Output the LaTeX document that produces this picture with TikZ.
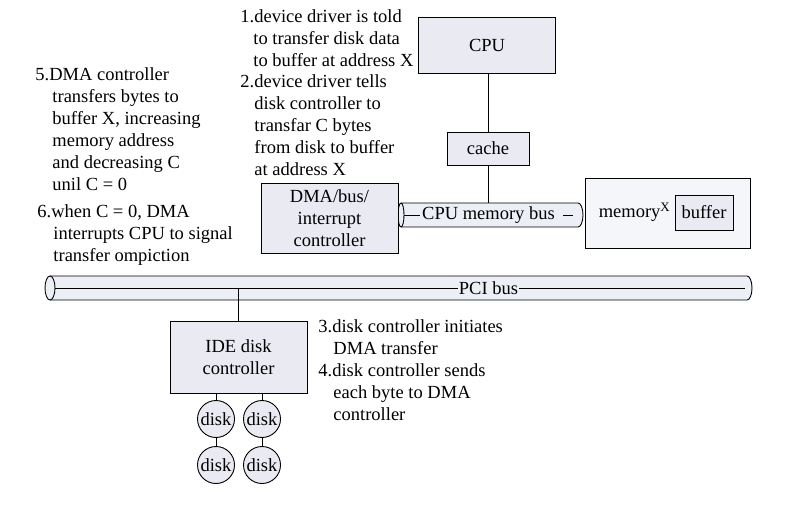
\documentclass[tikz,border=0pt]{standalone}
\usepackage{fontspec}
\setmainfont{Liberation Serif}

\definecolor{boxfill}{RGB}{233,234,242}
\definecolor{busfill}{RGB}{237,239,246}

\begin{document}
\begin{tikzpicture}[x=1pt,y=1pt,line width=0.9pt,
	font=\fontsize{18.5}{22}\selectfont,
	hwbox/.style={draw,fill=boxfill,inner sep=0pt,align=center},
	diskdrum/.style={draw,fill=boxfill,circle,minimum size=37pt,inner sep=0pt},
	stepnote/.style={anchor=north west,inner sep=0pt,align=left}]

	\useasboundingbox (0,0) rectangle (800,504);

	\draw[fill=busfill] (401,301) -- (578,301) arc[start angle=90,end angle=-90,x radius=5,y radius=12] -- (401,277) arc[start angle=270,end angle=90,x radius=3,y radius=12] -- cycle;
	\draw (401,301) arc[start angle=90,end angle=-90,x radius=3,y radius=12];
	\coordinate (membus) at (488,301);
	\coordinate (membusleft) at (404,289);
	\coordinate (membusright) at (573,289);
	\node[inner sep=2pt] (membuslabel) at (488.5,289) {CPU memory bus};
	\draw (membusleft) -- (membuslabel.west);
	\draw (membuslabel.east) ++(6,0) -- (membusright);

	\draw[fill=busfill] (50,228) -- (747,228) arc[start angle=90,end angle=-90,x radius=5,y radius=12] -- (50,204) arc[start angle=270,end angle=90,x radius=5,y radius=12] -- cycle;
	\draw (50,228) arc[start angle=90,end angle=-90,x radius=5,y radius=12];
	\coordinate (pcibus) at (238.5,216);
	\coordinate (pcibusleft) at (55,216);
	\coordinate (pcibusright) at (745,216);
	\node[inner sep=0.5pt] (pcilabel) at (488.5,216) {PCI bus};
	\draw (pcibusleft) -- (pcilabel.west);
	\draw (pcilabel.east) -- (pcibusright);

	\node[hwbox,minimum width=137pt,minimum height=56pt] (cpu) at (487,459) {CPU};
	\node[hwbox,minimum width=82pt,minimum height=33pt] (cache) at (488,355.5) {cache};
	\node[hwbox,minimum width=137pt,minimum height=70pt] (dma) at (329.5,286) {DMA/bus/\\interrupt\\controller};
	\node[hwbox,minimum width=165pt,minimum height=70pt,fill=white!55!boxfill] (memory) at (667.5,291) {};
	\node[hwbox,minimum width=58pt,minimum height=35pt] (buffer) at (704,291.5) {buffer};
	\node[inner sep=0pt] (memlabel) at (634.5,292) {memory\textsuperscript{X}};
	\node[hwbox,minimum width=137pt,minimum height=72pt] (ide) at (238.5,147) {IDE disk\\controller};

	\node[diskdrum] (disk1) at (216,85) {disk};
	\node[diskdrum] (disk2) at (262,85) {disk};
	\node[diskdrum] (disk3) at (216,39) {disk};
	\node[diskdrum] (disk4) at (262,39) {disk};

	\draw (cache.north |- cpu.south) -- (cache.north);
	\draw (cache.south) -- (membus);
	\draw (pcibus) -- (ide.north);
	\draw (disk1.north |- ide.south) -- (disk1.north);
	\draw (disk2.north |- ide.south) -- (disk2.north);
	\draw (disk1) -- (disk3);
	\draw (disk2) -- (disk4);

	\node[stepnote] (step1) at (240,494.6) {1.device driver is told\\\hspace*{13pt}to transfer disk data\\\hspace*{13pt}to buffer at address X};
	\node[stepnote] (step2) at (240,429.6) {2.device driver tells\\\hspace*{14pt}disk controller to\\\hspace*{14pt}transfar C bytes\\\hspace*{14pt}from disk to buffer\\\hspace*{14pt}at address X};
	\node[stepnote] (step5) at (35,436.6) {5.DMA controller\\\hspace*{17pt}transfers bytes to\\\hspace*{17pt}buffer X, increasing\\\hspace*{17pt}memory address\\\hspace*{17pt}and decreasing C\\\hspace*{17pt}unil C = 0};
	\node[stepnote] (step6) at (37,299.6) {6.when C = 0, DMA\\\hspace*{16pt}interrupts CPU to signal\\\hspace*{16pt}transfer ompiction};
	\node[stepnote] (step34) at (318,184.6) {3.disk controller initiates\\\hspace*{15pt}DMA transfer\\4.disk controller sends\\\hspace*{15pt}each byte to DMA\\\hspace*{15pt}controller};
\end{tikzpicture}
\end{document}
